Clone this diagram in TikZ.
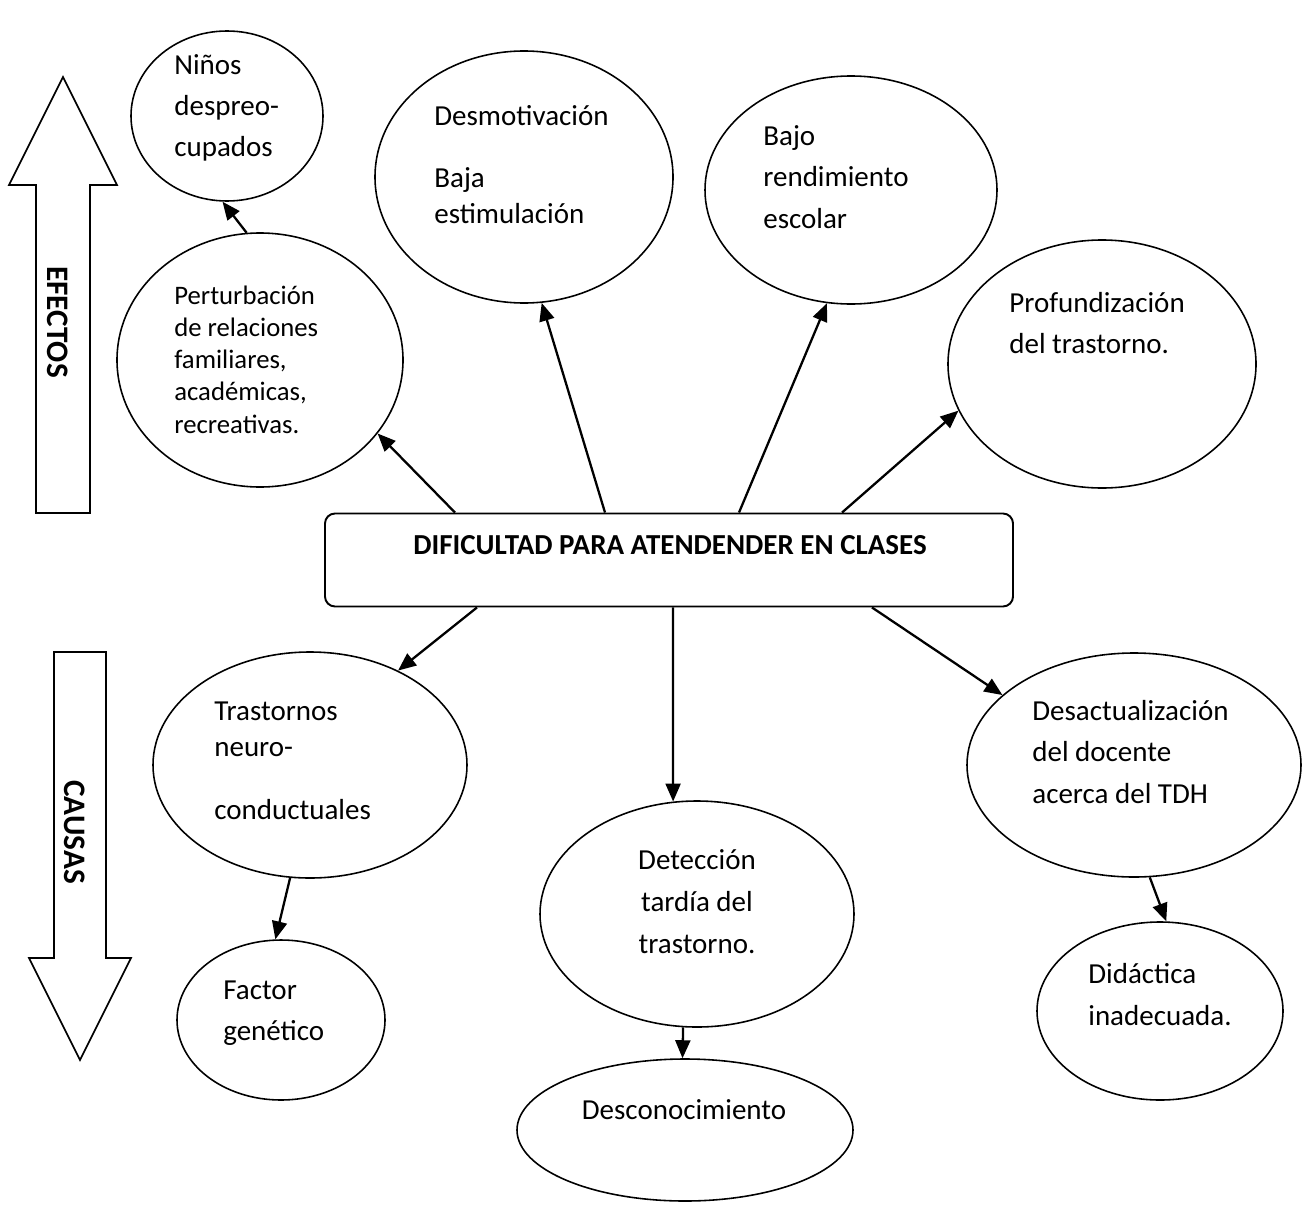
\documentclass[tikz,border=0pt]{standalone}
\usepackage{fontspec}
\setmainfont{Carlito}
\usetikzlibrary{shapes.geometric,arrows.meta,calc}
\tikzset{
  globo/.style={draw, ellipse, line width=0.9pt, inner sep=0pt},
  caja/.style={draw, rectangle, rounded corners=2mm, line width=1.1pt, minimum width=137.6mm, minimum height=18.6mm},
  grande/.style={draw, line width=0.9pt, line join=miter},
  flecha/.style={line width=1.3pt, -{Triangle[length=3.6mm, width=3mm]}},
  texto/.style={anchor=base west, align=left, inner sep=0pt, font=\fontsize{16.5}{23.2}\selectfont},
  titulo/.style={rotate=-90, inner sep=0pt, font=\bfseries\fontsize{17.8}{20}\selectfont}
}
\begin{document}
\begin{tikzpicture}[x=0.2mm, y=-0.2mm]
\useasboundingbox (0,0) rectangle (1311,1214);

% flechas grandes
\draw[grande] (36,513) -- (36,185) -- (9,185) -- (63,77) -- (117,185) -- (90,185) -- (90,513) -- cycle;
\node[titulo] (efectos) at (58,322) {EFECTOS};
\draw[grande] (54,652) -- (106,652) -- (106,958) -- (131,958) -- (80,1060) -- (29,958) -- (54,958) -- cycle;
\node[titulo] (causas) at (75,832) {CAUSAS};

% problema
\node[caja] (problema) at (669,560) {};
\node[anchor=base, inner sep=0pt, font=\bfseries\fontsize{16.5}{20}\selectfont] (problema-txt) at (670,554) {DIFICULTAD PARA ATENDENDER EN CLASES};

% efectos (texto anclado en la linea base de la ultima linea)
\node[globo, minimum width=38.4mm, minimum height=34mm] (ninos) at (227,116) {};
\node[texto] (ninos-txt) at (174,156) {Niños\\despreo-\\cupados};
\node[globo, minimum width=59.6mm, minimum height=50.4mm] (desmot) at (524,177) {};
\node[texto, font=\fontsize{16.5}{20.4}\selectfont] (desmot-txt) at (434,223) {Desmotivación\\[14.7pt]Baja\\estimulación};
\node[globo, minimum width=58.4mm, minimum height=45.6mm] (bajo) at (851,190) {};
\node[texto, font=\fontsize{16.5}{23.5}\selectfont] (bajo-txt) at (763,228) {Bajo\\rendimiento\\escolar};
\node[globo, minimum width=57.2mm, minimum height=50.8mm] (pert) at (260,360) {};
\node[texto, font=\fontsize{15.2}{18.3}\selectfont] (pert-txt) at (174,433) {Perturbación\\de relaciones\\familiares,\\académicas,\\recreativas.};
\node[globo, minimum width=61.6mm, minimum height=49.6mm] (profund) at (1102,364) {};
\node[texto] (profund-txt) at (1009,353) {Profundización\\del trastorno.};

% causas
\node[globo, minimum width=62.8mm, minimum height=45.2mm] (trast) at (310,765) {};
\node[texto, font=\fontsize{16.5}{20.4}\selectfont] (trast-txt) at (214,819) {Trastornos\\neuro-\\[15.3pt]conductuales};
\node[globo, minimum width=62.8mm, minimum height=45.2mm] (detec) at (697,914) {};
\node[texto, anchor=base, align=center, font=\fontsize{16.5}{23.8}\selectfont] (detec-txt) at (697,953) {Detección\\tardía del\\trastorno.};
\node[globo, minimum width=66.8mm, minimum height=44.8mm] (desact) at (1134,765) {};
\node[texto, font=\fontsize{16.5}{23.5}\selectfont] (desact-txt) at (1032,803) {Desactualización\\del docente\\acerca del TDH};
\node[globo, minimum width=41.6mm, minimum height=32mm] (factor) at (281,1020) {};
\node[texto] (factor-txt) at (223,1040) {Factor\\genético};
\node[globo, minimum width=49.2mm, minimum height=35.6mm] (didact) at (1160,1011) {};
\node[texto, font=\fontsize{16.5}{23.8}\selectfont] (didact-txt) at (1088,1025) {Didáctica\\inadecuada.};
\node[globo, minimum width=67.2mm, minimum height=28.4mm] (descon) at (685,1130) {};
\node[texto, anchor=base] (descon-txt) at (684,1119) {Desconocimiento};

% conectores
\draw[flecha] ($(problema.north)+(-214,0)$) -- (pert.-32);
\draw[flecha] ($(problema.north)+(-64,0)$) -- (desmot.-82);
\draw[flecha] ($(problema.north)+(70,0)$) -- (bajo.-102);
\draw[flecha] ($(problema.north)+(173,0)$) -- (profund.198);
\draw[flecha] (pert.96) -- (ninos.-93);
\draw[flecha] ($(problema.south)+(-192,0)$) -- (trast.47);
\draw[flecha] ($(problema.south)+(4,0)$) -- (detec.102);
\draw[flecha] ($(problema.south)+(203,0)$) -- (desact.152);
\draw[flecha] (trast.-100) -- (factor.94);
\draw[flecha] (detec.-97) -- (descon.92);
\draw[flecha] (desact.-82) -- (didact.86);
\end{tikzpicture}
\end{document}
